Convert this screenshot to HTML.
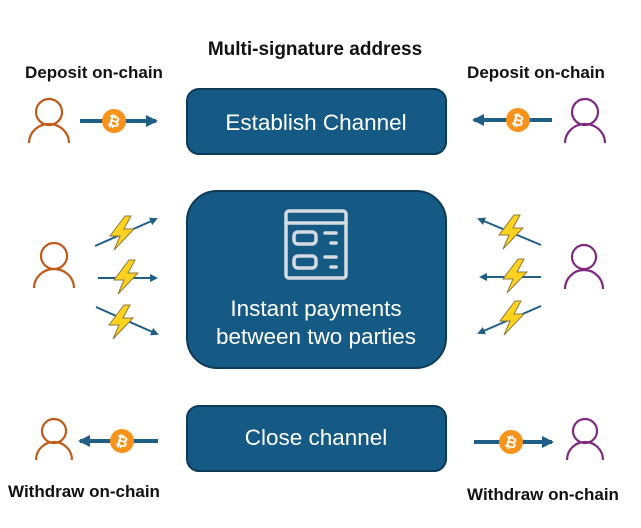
<!DOCTYPE html>
<html><head><meta charset="utf-8"><style>
html,body{margin:0;padding:0;background:#fff;}
svg{display:block;}
text{font-family:"Liberation Sans",sans-serif;}
</style></head><body>
<svg width="641" height="528" viewBox="0 0 641 528" xmlns="http://www.w3.org/2000/svg">
<defs>
<marker id="ah" markerWidth="8" markerHeight="8" refX="6" refY="4" orient="auto" markerUnits="userSpaceOnUse">
<path d="M0,0 L8,4 L0,8 Z" fill="#1f5f86"/></marker>
<marker id="ahb" markerWidth="12" markerHeight="12" refX="10" refY="6" orient="auto" markerUnits="userSpaceOnUse">
<path d="M0,0 L12,6 L0,12 Z" fill="#1f5f86"/></marker>
<g id="coin"><circle r="12" fill="#f7931a"/><text y="5.5" text-anchor="middle" font-size="15" font-weight="bold" fill="#fff" transform="rotate(14)">₿</text></g>
<g id="bolt"><path d="M3,-17 L-12,3 L-2,3 L-8,17 L12,-4 L2,-4 L9,-17 Z" fill="#ffd21f" stroke="#8a7a3a" stroke-width="1"/></g>
</defs>
<text x="315" y="55" text-anchor="middle" font-size="19" font-weight="bold" fill="#111">Multi-signature address</text>
<text x="94" y="78" text-anchor="middle" font-size="17" font-weight="bold" fill="#111">Deposit on-chain</text>
<text x="536" y="78" text-anchor="middle" font-size="17" font-weight="bold" fill="#111">Deposit on-chain</text>
<text x="84" y="497" text-anchor="middle" font-size="17" font-weight="bold" fill="#111">Withdraw on-chain</text>
<text x="543" y="500" text-anchor="middle" font-size="17" font-weight="bold" fill="#111">Withdraw on-chain</text>

<rect x="187" y="89" width="259" height="65" rx="12" fill="#155a84" stroke="#0d3a57" stroke-width="2"/>
<rect x="187" y="191" width="259" height="177" rx="30" fill="#155a84" stroke="#0d3a57" stroke-width="2"/>
<rect x="187" y="406" width="259" height="65" rx="12" fill="#155a84" stroke="#0d3a57" stroke-width="2"/>
<text x="316" y="130" text-anchor="middle" font-size="22.5" fill="#fff">Establish Channel</text>
<text x="316" y="445" text-anchor="middle" font-size="22.5" fill="#fff">Close channel</text>
<text x="316" y="316" text-anchor="middle" font-size="22.5" fill="#fff">Instant payments</text>
<text x="316" y="344" text-anchor="middle" font-size="22.5" fill="#fff">between two parties</text>
<g fill="none" stroke="#d5dbe2" stroke-width="3.5" stroke-linecap="round">
<rect x="286" y="211" width="60" height="67" rx="3"/>
<line x1="286" y1="223" x2="346" y2="223"/>
<rect x="294" y="232" width="22" height="12" rx="4"/>
<rect x="294" y="256" width="22" height="12" rx="4"/>
<line x1="325" y1="233" x2="336" y2="233"/><line x1="331" y1="243" x2="336" y2="243"/>
<line x1="325" y1="257" x2="336" y2="257"/><line x1="331" y1="267" x2="336" y2="267"/>
</g>

<g fill="none" stroke="#c05a1a" stroke-width="2.2">
<circle cx="49" cy="112" r="13"/><path d="M29,143 A20,19 0 0 1 69,143"/>
<circle cx="54" cy="256" r="13"/><path d="M34,288 A20,19 0 0 1 74,288"/>
<circle cx="54" cy="431" r="12"/><path d="M36,460 A18,18 0 0 1 72,460"/>
</g>
<g fill="none" stroke="#7d2a80" stroke-width="2.2">
<circle cx="585" cy="112" r="13"/><path d="M565,143 A20,19 0 0 1 605,143"/>
<circle cx="584" cy="257" r="12"/><path d="M565,289 A19,19 0 0 1 603,289"/>
<circle cx="585" cy="431" r="12"/><path d="M567,460 A18,18 0 0 1 603,460"/>
</g>

<g stroke="#1f5f86" stroke-width="4">
<line x1="80" y1="121" x2="156" y2="121" marker-end="url(#ahb)"/>
<line x1="552" y1="120" x2="474" y2="120" marker-end="url(#ahb)"/>
<line x1="158" y1="441" x2="80" y2="441" marker-end="url(#ahb)"/>
<line x1="474" y1="442" x2="552" y2="442" marker-end="url(#ahb)"/>
</g>
<use href="#coin" x="114" y="121"/>
<use href="#coin" x="518" y="120"/>
<use href="#coin" x="122" y="441"/>
<use href="#coin" x="511" y="442"/>

<g stroke="#1f5f86" stroke-width="2">
<line x1="95" y1="246" x2="156" y2="219" marker-end="url(#ah)"/>
<line x1="98" y1="278" x2="156" y2="278" marker-end="url(#ah)"/>
<line x1="96" y1="307" x2="157" y2="334" marker-end="url(#ah)"/>
<line x1="541" y1="245" x2="479" y2="219" marker-end="url(#ah)"/>
<line x1="541" y1="277" x2="481" y2="277" marker-end="url(#ah)"/>
<line x1="541" y1="306" x2="479" y2="333" marker-end="url(#ah)"/>
</g>
<use href="#bolt" x="122" y="233"/>
<use href="#bolt" x="126" y="277"/>
<use href="#bolt" x="121" y="322"/>
<use href="#bolt" x="511" y="232"/>
<use href="#bolt" x="515" y="276"/>
<use href="#bolt" x="512" y="318"/>
</svg>
</body></html>
